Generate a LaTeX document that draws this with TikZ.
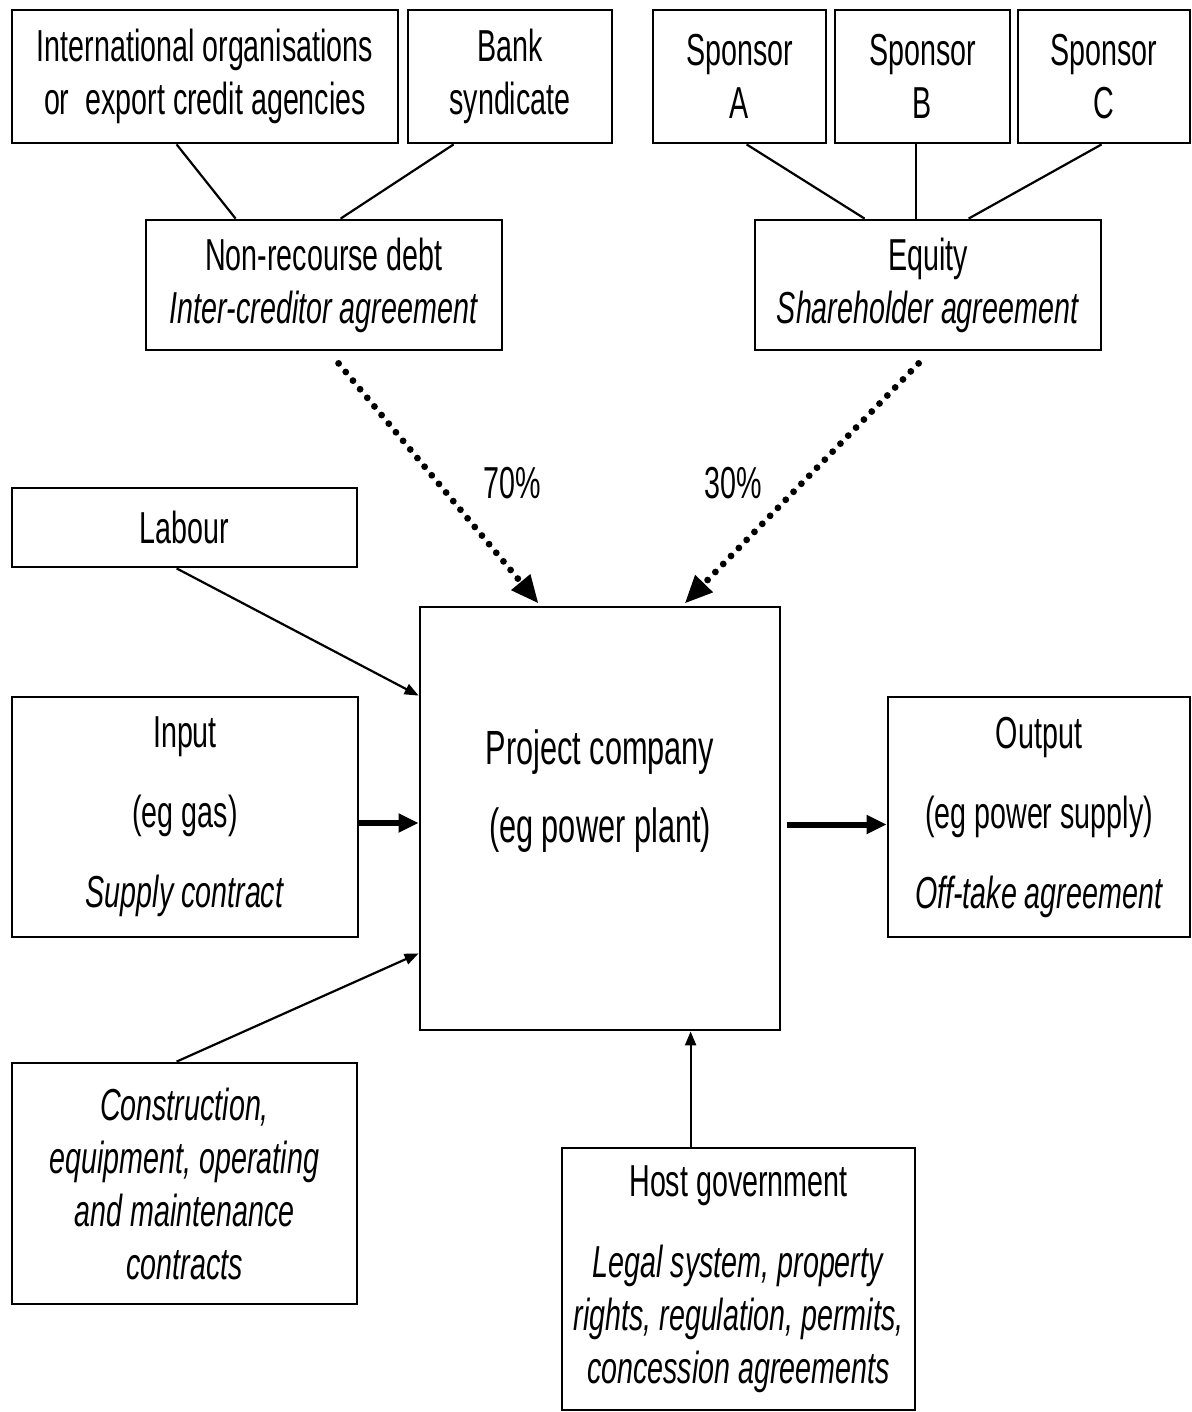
\documentclass[tikz,border=0pt]{standalone}
\usepackage{fontspec}
\setmainfont[FakeStretch=0.64]{Liberation Sans}
\usetikzlibrary{arrows.meta,calc}

\begin{document}
\begin{tikzpicture}[x=0.5pt,y=-0.5pt,
  box/.style={draw, line width=1.4pt, rectangle, inner sep=0pt},
  txt/.style={align=center, font=\fontsize{22.4}{26.5}\selectfont},
  link/.style={line width=1.1pt},
  dotarrow/.style={line width=3.4pt, dash pattern=on 0pt off 5.6pt, line cap=round,
    -{Triangle[length=14pt,width=11.5pt]}},
  thinarrow/.style={line width=1.1pt, -{Triangle[length=7pt,width=5.5pt]}},
  thickarrow/.style={line width=3pt, -{Triangle[length=10pt,width=9pt]}}
]
\useasboundingbox (0,0) rectangle (1192,1412);

% lenders
\node[box, txt, minimum width=193pt, minimum height=66.5pt] (intl) at (205,76.5)
  {International organisations\\or\ \ export credit agencies};
\node[box, txt, minimum width=102pt, minimum height=66.5pt] (bank) at (510,76.5)
  {Bank\\syndicate};

% sponsors
\node[box, txt, minimum width=86.5pt, minimum height=66.5pt] (spA) at (739.5,76.5) {Sponsor\\A};
\node[box, txt, minimum width=87.5pt, minimum height=66.5pt] (spB) at (922.5,76.5) {Sponsor\\B};
\node[box, txt, minimum width=86pt, minimum height=66.5pt] (spC) at (1104,76.5) {Sponsor\\C};

% financing
\node[box, txt, minimum width=178pt, minimum height=65pt] (debt) at (324,285)
  {Non-recourse debt\\\textit{Inter-creditor agreement}};
\node[box, txt, minimum width=173pt, minimum height=65pt] (equity) at (928,285)
  {Equity\\\textit{Shareholder agreement}};

% project company and its counterparties
\node[box, minimum width=180pt, minimum height=211.5pt] (pc) at (600,818.5) {};
\node[txt, font=\fontsize{24}{26.5}\selectfont] (pctext) at (600,791)
  {Project company\\[12.5pt](eg power plant)};

\node[box, txt, minimum width=172.5pt, minimum height=39.5pt] (labour) at (184.5,527.5) {Labour};
\node[box, txt, minimum width=173pt, minimum height=120pt] (input) at (185,817)
  {Input\\[13.5pt](eg gas)\\[13.5pt]\textit{Supply contract}};
\node[box, txt, minimum width=151pt, minimum height=120pt] (output) at (1039,817)
  {Output\\[13.5pt](eg power supply)\\[13.5pt]\textit{Off-take agreement}};
\node[box, txt, minimum width=172.5pt, minimum height=120.5pt] (cons) at (184.5,1183.5)
  {\textit{Construction,}\\\textit{equipment, operating}\\\textit{and maintenance}\\\textit{contracts}};
\node[box, txt, minimum width=176.5pt, minimum height=131pt] (host) at (738.5,1279)
  {Host government\\[14pt]\textit{Legal system, property}\\\textit{rights, regulation, permits,}\\\textit{concession agreements}};

% shares
\node[txt] (pct70) at (512,483) {70\%};
\node[txt] (pct30) at (733,483) {30\%};

% lender and sponsor links
\draw[link] ($(intl.south west)+(166,0)$) -- ($(debt.north west)+(91,0)$);
\draw[link] ($(bank.south west)+(47,0)$) -- ($(debt.north west)+(196,0)$);
\draw[link] ($(spA.south west)+(95,0)$) -- ($(equity.north west)+(111,0)$);
\draw[link] ($(spB.south west)+(82,0)$) -- ($(equity.north west)+(162,0)$);
\draw[link] ($(spC.south west)+(85,0)$) -- ($(equity.north west)+(215,0)$);

% funding flows
\draw[dotarrow] ($(debt.south west)+(194,12)$) -- ($(pc.north west)+(120,-2)$);
\draw[dotarrow] ($(equity.south west)+(165,12)$) -- ($(pc.north west)+(266,-2)$);

% contracts into the project company
\draw[thinarrow] ($(labour.south west)+(166,0)$) -- ($(pc.north west)+(0,90)$);
\draw[thinarrow] ($(cons.north west)+(166,0)$) -- ($(pc.south west)+(0,-78)$);
\coordinate (hostlink) at ($(host.north west)+(130,0)$);
\draw[thinarrow] (hostlink) -- (hostlink |- pc.south);

% physical flows
\draw[thickarrow] ($(input.east)+(0,6)$) -- ($(input.east -| pc.west)+(0,6)$);
\draw[thickarrow] ($(pc.east)+(6,6)$) -- ($(pc.east -| output.west)+(0,6)$);
\end{tikzpicture}
\end{document}
